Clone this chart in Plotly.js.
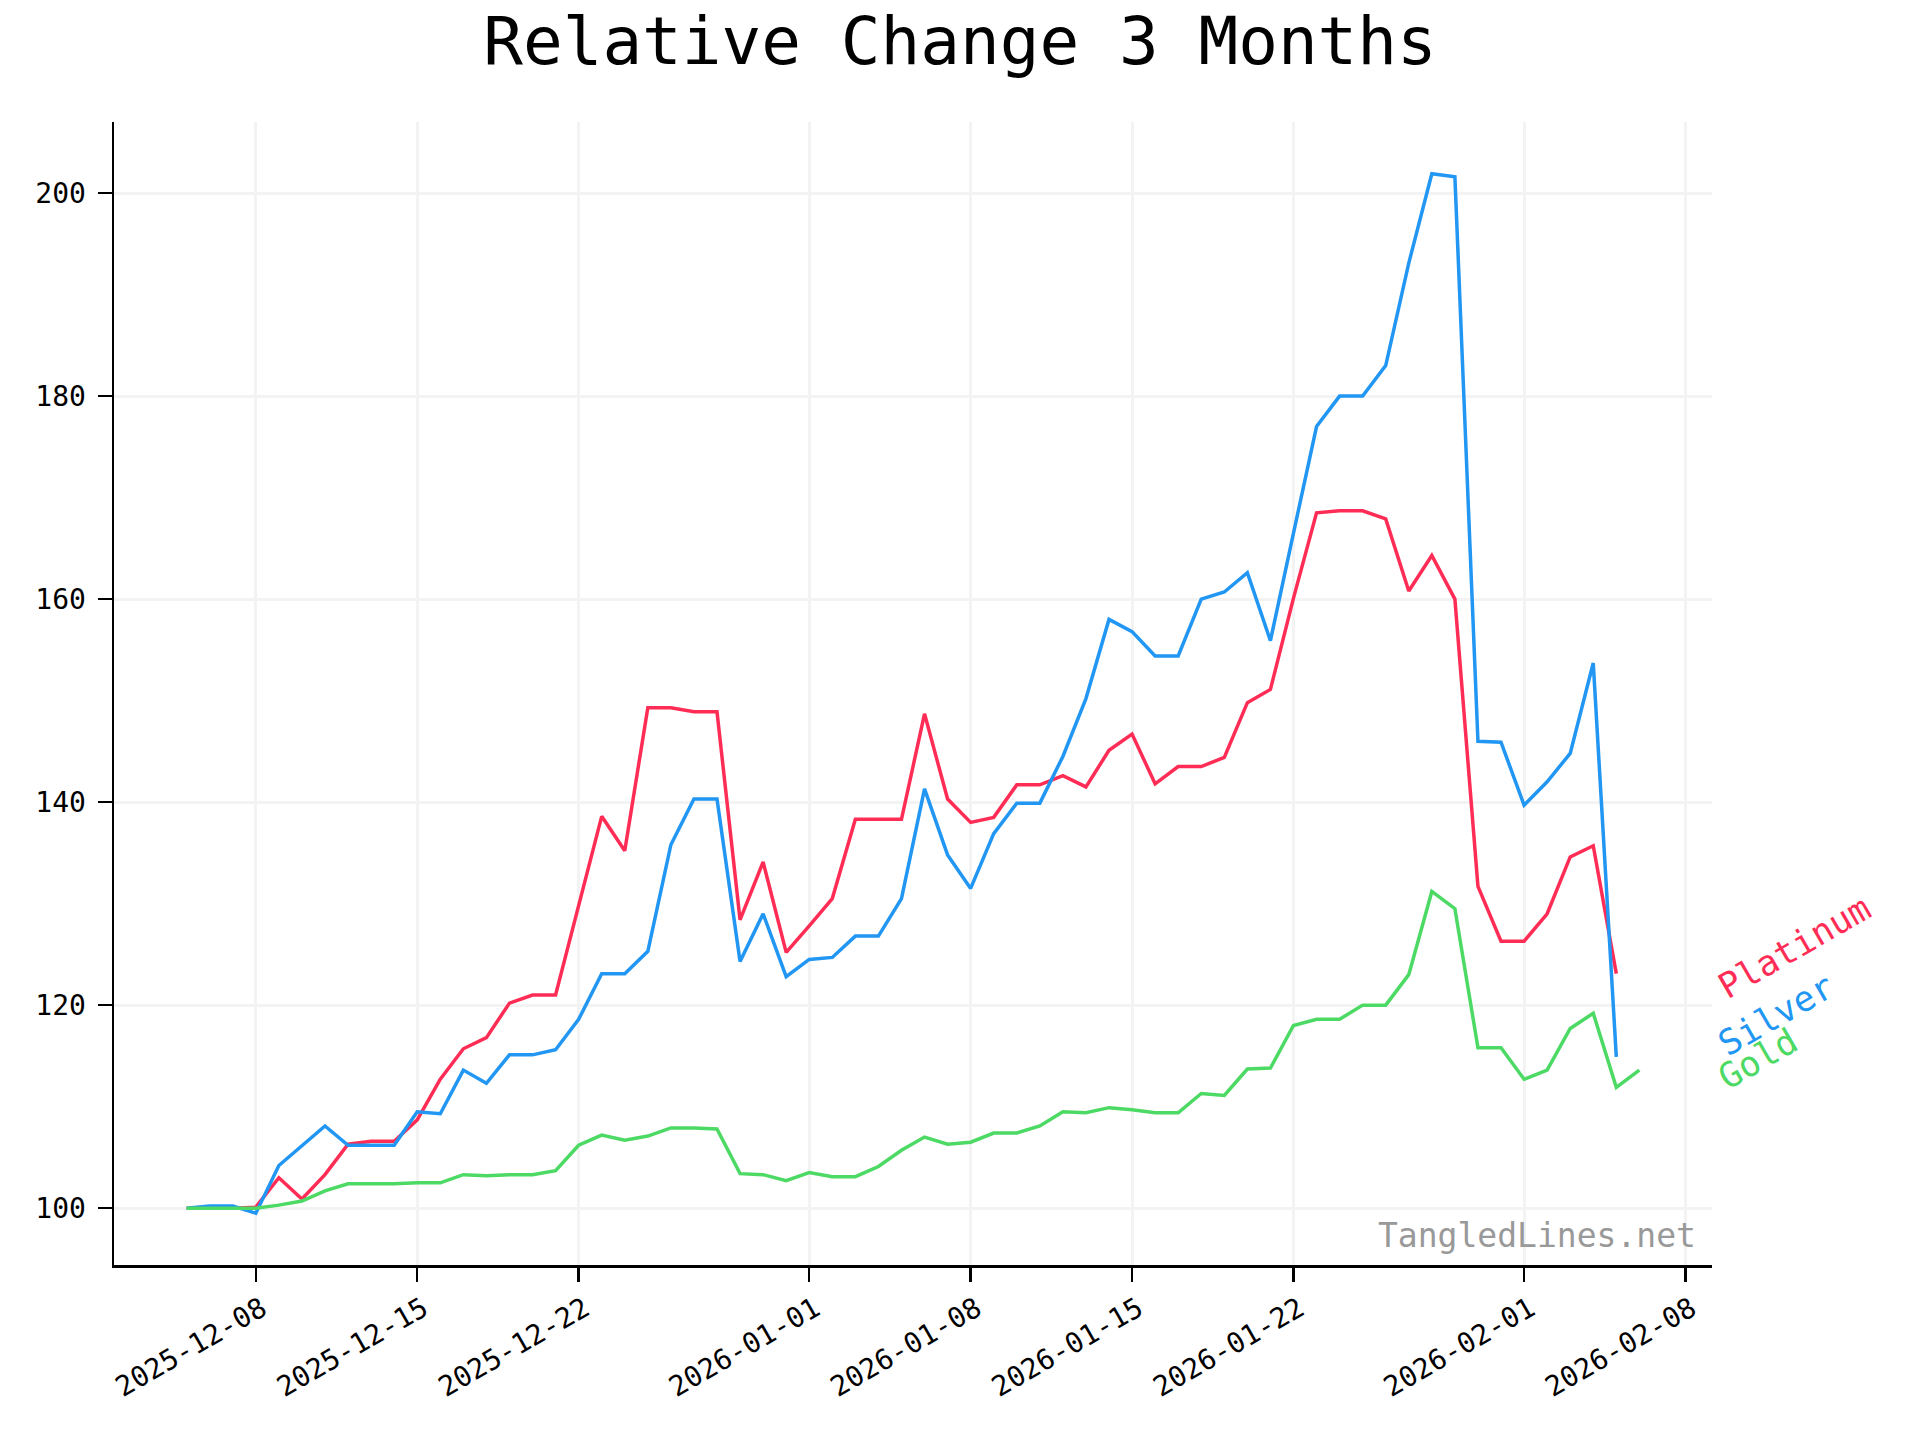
<!DOCTYPE html>
<html>
<head>
<meta charset="utf-8">
<script src="https://cdn.plot.ly/plotly-3.0.1.min.js"></script>
<style>
  html, body { margin: 0; padding: 0; background: #ffffff; }
  #chart { width: 1920px; height: 1440px; }
</style>
</head>
<body>
<div id="chart"></div>
<script>
// First date of the series (daily observations)
const startDate = "2025-12-05";

const platinum = [
  100, 100, 100, 100.1, 103.0, 100.9, 103.3, 106.3, 106.6, 106.6,
  108.7, 112.7, 115.7, 116.8, 120.2, 121.0, 121.0, 129.8, 138.6, 135.2,
  149.3, 149.3, 148.9, 148.9, 128.4, 134.1, 125.2,
  127.8, 130.5, 138.3, 138.3, 138.3, 148.7, 140.3, 138.0, 138.5, 141.7,
  141.7, 142.6, 141.5, 145.1, 146.7, 141.8, 143.5, 143.5, 144.4, 149.8,
  151.1, 160.1, 168.5, 168.7, 168.7, 167.9, 160.8, 164.3, 160.0, 131.7,
  126.3,
  126.3, 129.0, 134.6, 135.7, 123.1
];

const silver = [
  100, 100.2, 100.2, 99.5, 104.2, 106.1, 108.1, 106.2, 106.2, 106.2,
  109.5, 109.3, 113.6, 112.3, 115.1, 115.1, 115.6, 118.6, 123.1, 123.1,
  125.3, 135.8, 140.3, 140.3, 124.3, 129.0, 122.8,
  124.5, 124.7, 126.8, 126.8, 130.5, 141.3, 134.8, 131.5, 136.9, 139.9,
  139.9, 144.5, 150.2, 158.0, 156.8, 154.4, 154.4, 160.0, 160.7, 162.6,
  155.9, 166.5, 177.0, 180.0, 180.0, 183.0, 193.1, 201.9, 201.6, 146.0,
  145.9,
  139.7, 142.0, 144.8, 153.7, 114.9
];

const gold = [
  100, 100, 100, 100, 100.3, 100.7, 101.7, 102.4, 102.4, 102.4,
  102.5, 102.5, 103.3, 103.2, 103.3, 103.3, 103.7, 106.2, 107.2, 106.7,
  107.1, 107.9, 107.9, 107.8, 103.4, 103.3, 102.7,
  103.5, 103.1, 103.1, 104.1, 105.7, 107.0, 106.3, 106.5, 107.4, 107.4,
  108.1, 109.5, 109.4, 109.9, 109.7, 109.4, 109.4, 111.3, 111.1, 113.7,
  113.8, 118.0, 118.6, 118.6, 120.0, 120.0, 123.0, 131.2, 129.5, 115.8,
  115.8,
  112.7, 113.6, 117.7, 119.2, 111.9, 113.6
];

const seriesNames = ["Platinum", "Silver", "Gold"];
const seriesColors = ["#ff2d55", "#2196f3", "#4cd964"];

const tickDates = ["2025-12-08", "2025-12-15", "2025-12-22", "2026-01-01", "2026-01-08",
                   "2026-01-15", "2026-01-22", "2026-02-01", "2026-02-08"];
const tickLabels = ["2025-12-08", "2025-12-15", "2025-12-22", "2026-01-01", "2026-01-08",
                    "2026-01-15", "2026-01-22", "2026-02-01", "2026-02-08"];
const yTicks = [100, 120, 140, 160, 180, 200];

function dailyDates(start, n) {
  const out = [];
  const d0 = new Date(start + "T00:00:00Z");
  for (let i = 0; i < n; i++) {
    const d = new Date(d0.getTime() + i * 86400000);
    out.push(d.toISOString().slice(0, 10));
  }
  return out;
}

const allSeries = [platinum, silver, gold];
const FONT = "DejaVu Sans Mono, monospace";

const traces = allSeries.map((vals, i) => ({
  type: "scatter",
  mode: "lines",
  name: seriesNames[i],
  x: dailyDates(startDate, vals.length),
  y: vals,
  line: { color: seriesColors[i], width: 3.5 },
  hoverinfo: "skip"
}));

const labelShift = [27, 42, 11];
const annotations = allSeries.map((vals, i) => ({
  xref: "paper", yref: "y",
  x: 1, y: vals[vals.length - 1],
  xshift: -3, yshift: labelShift[i],
  xanchor: "left", yanchor: "middle",
  text: seriesNames[i],
  textangle: -30,
  showarrow: false,
  font: { family: FONT, size: 35, color: seriesColors[i] }
}));
annotations.push({
  xref: "paper", yref: "paper",
  x: 0.991, y: 0.026,
  xanchor: "right", yanchor: "middle",
  text: "TangledLines.net",
  showarrow: false,
  font: { family: FONT, size: 33, color: "#999999" }
});

const layout = {
  width: 1920, height: 1440,
  paper_bgcolor: "#ffffff", plot_bgcolor: "#ffffff",
  margin: { l: 114, r: 208, t: 122, b: 175, pad: 0 },
  showlegend: false,
  font: { family: FONT, color: "#000000" },
  title: {
    text: "Relative Change 3 Months",
    font: { family: FONT, size: 66, color: "#000000" },
    x: 0.5, xref: "container", xanchor: "center",
    y: 1 - 41 / 1440, yref: "container", yanchor: "middle"
  },
  xaxis: {
    type: "date",
    range: ["2025-12-01 20:24", "2026-02-09 03:36"],
    tickvals: tickDates, ticktext: tickLabels,
    tickangle: -30,
    ticklabelshift: 6,
    tickfont: { family: FONT, size: 28, color: "#000000" },
    ticks: "outside", ticklen: 14, tickwidth: 2.5, tickcolor: "#000000",
    showline: true, linecolor: "#000000", linewidth: 2.5,
    showgrid: true, gridcolor: "#f3f3f3", gridwidth: 3,
    zeroline: false, mirror: false
  },
  yaxis: {
    range: [94.4, 207.0],
    tickvals: yTicks,
    tickfont: { family: FONT, size: 28, color: "#000000" },
    ticks: "outside", ticklen: 14, tickwidth: 2.5, tickcolor: "#000000",
    ticklabelstandoff: 6,
    showline: true, linecolor: "#000000", linewidth: 2.5,
    showgrid: true, gridcolor: "#f3f3f3", gridwidth: 3,
    zeroline: false, mirror: false
  },
  annotations: annotations
};

Plotly.newPlot("chart", traces, layout, { staticPlot: true, displayModeBar: false });
</script>
</body>
</html>
